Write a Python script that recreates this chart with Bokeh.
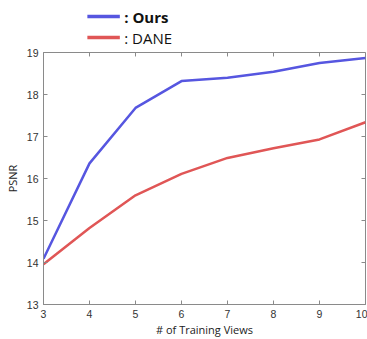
from bokeh.plotting import figure
from bokeh.layouts import column
from bokeh.models import Range1d, FixedTicker
from bokeh.core.properties import value
from bokeh.embed import file_html
from bokeh.resources import INLINE

views = [3, 4, 5, 6, 7, 8, 9, 10]
ours = [14.09, 16.36, 17.68, 18.32, 18.40, 18.54, 18.75, 18.87]
dane = [13.96, 14.82, 15.60, 16.11, 16.49, 16.72, 16.93, 17.34]
x_ticks = [3, 4, 5, 6, 7, 8, 9, 10]
y_ticks = [13, 14, 15, 16, 17, 18, 19]
series_names = ["Ours", "DANE"]

BLUE = "#5656e0"
RED = "#e05656"
GREY = "#8a8a8a"

X0, X1, Y0, Y1 = 3, 10, 13, 19
W = 367
LEG_H = 47
MAIN_H = 339 - LEG_H

# ---------------- main plot ----------------
p = figure(width=W, height=MAIN_H, output_backend="svg", toolbar_location=None,
           x_range=Range1d(X0, X1), y_range=Range1d(Y0, Y1))
p.min_border_left = 43
p.min_border_right = 2
p.min_border_top = 52 - LEG_H
p.min_border_bottom = 33
p.outline_line_color = GREY
p.outline_line_width = 1
p.grid.visible = False

p.line(views, ours, line_color=BLUE, line_width=2.5)
p.line(views, dane, line_color=RED, line_width=2.5)

for ax in p.xaxis + p.yaxis:
    ax.major_tick_in = 4
    ax.major_tick_out = 0
    ax.minor_tick_in = 0
    ax.minor_tick_out = 0
    ax.axis_line_color = GREY
    ax.major_tick_line_color = GREY
    ax.major_label_text_font = "Liberation Sans"
    ax.major_label_text_font_size = "10.5px"
    ax.major_label_text_color = "#333333"
    ax.major_label_standoff = 5
    ax.axis_label_text_font = "Open Sans"
    ax.axis_label_text_font_size = "11px"
    ax.axis_label_text_font_style = "normal"
    ax.axis_label_text_color = "#222222"
p.xaxis.ticker = FixedTicker(ticks=x_ticks)
p.yaxis.ticker = FixedTicker(ticks=y_ticks)
p.xaxis.axis_label = "# of Training Views"
p.yaxis.axis_label = "PSNR"
p.xaxis.axis_label_standoff = 1
p.yaxis.axis_label_standoff = 4

# mirrored inward ticks on top and right edges (4 px long)
fw = W - 43 - 2
fh = MAIN_H - (52 - LEG_H) - 33
dy = 4 * (Y1 - Y0) / fh
dx = 4 * (X1 - X0) / fw
p.segment(x0=x_ticks, y0=[Y1] * len(x_ticks), x1=x_ticks, y1=[Y1 - dy] * len(x_ticks),
          line_color=GREY, line_width=1)
p.segment(x0=[X1] * len(y_ticks), y0=y_ticks, x1=[X1 - dx] * len(y_ticks), y1=y_ticks,
          line_color=GREY, line_width=1)

# ---------------- legend strip (pixel ranges, y downward) ----------------
lf = figure(width=W, height=LEG_H, output_backend="svg", toolbar_location=None,
            x_range=Range1d(0, W), y_range=Range1d(LEG_H, 0),
            x_axis_location=None, y_axis_location=None)
lf.min_border = 0
lf.min_border_left = 0
lf.min_border_right = 0
lf.min_border_top = 0
lf.min_border_bottom = 0
lf.grid.visible = False
lf.outline_line_color = None

rows = [16, 37]
colors = [BLUE, RED]
styles = ["bold", "normal"]
for name, yc, col, st in zip(series_names, rows, colors, styles):
    lf.segment(x0=[50], y0=[yc], x1=[87], y1=[yc], line_color=col, line_width=3.5)
    lf.text(x=[92], y=[yc], text=[": " + name], text_font=value("Open Sans"),
            text_font_style=st, text_font_size="15px", text_color="#111111",
            text_baseline="middle", text_align="left")

layout = column(lf, p, spacing=0)
open("out.html", "w").write(file_html(layout, INLINE))
